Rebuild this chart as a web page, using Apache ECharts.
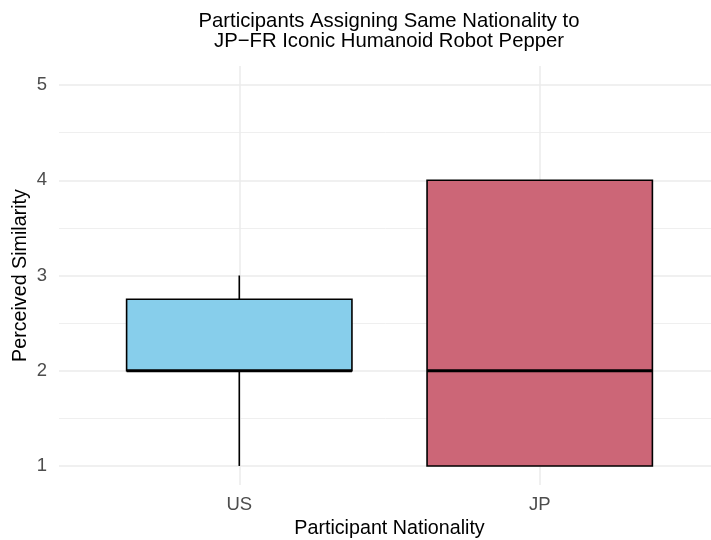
<!DOCTYPE html>
<html><head><meta charset="utf-8">
<script src="https://cdn.jsdelivr.net/npm/echarts@6/dist/echarts.min.js"></script>
<style>html,body{margin:0;padding:0;background:#fff}#c{width:711px;height:540px}</style>
</head><body><div id="c"></div>
<script>
// ---- data ----
const categories = ['US', 'JP'];
const xPositions = [1, 2];
const whiskerLow = [1, 1];
const q1 = [2, 1];
const median = [2, 2];
const q3 = [2.75, 4];
const whiskerHigh = [3, 4];
const fillColors = ['#87CEEB', '#CC6677'];
const yMajorTicks = [1, 2, 3, 4, 5];
const yMinorTicks = [1.5, 2.5, 3.5, 4.5];

// ---- styling ----
const FONT = '"Liberation Sans", Arial, Helvetica, sans-serif';
const BOX_WIDTH = 0.75;
const GRID = '#EBEBEB';

const boxData = categories.map((c, i) => ({
  name: c,
  value: [xPositions[i], whiskerLow[i], q1[i], median[i], q3[i], whiskerHigh[i]],
  itemStyle: { color: fillColors[i] }
}));

function renderBox(params, api) {
  const x = api.value(0);
  const pLo = api.coord([x, api.value(1)]);
  const pA = api.coord([x, api.value(2)]);
  const pM = api.coord([x, api.value(3)]);
  const pB = api.coord([x, api.value(4)]);
  const pHi = api.coord([x, api.value(5)]);
  const half = api.size([BOX_WIDTH, 0])[0] / 2;
  const cx = pA[0];
  const stroke = { stroke: '#000', lineWidth: 1.6 };
  return {
    type: 'group',
    children: [
      { type: 'line', shape: { x1: cx, y1: pB[1], x2: cx, y2: pHi[1] }, style: stroke },
      { type: 'line', shape: { x1: cx, y1: pA[1], x2: cx, y2: pLo[1] }, style: stroke },
      { type: 'rect', shape: { x: cx - half, y: pB[1], width: 2 * half, height: pA[1] - pB[1] },
        style: { fill: api.visual('color'), stroke: '#000', lineWidth: 1.6 } },
      { type: 'line', shape: { x1: cx - half, y1: pM[1], x2: cx + half, y2: pM[1] },
        style: { stroke: '#000', lineWidth: 3.2 } }
    ]
  };
}

const chart = echarts.init(document.getElementById('c'), null, { renderer: 'canvas' });
chart.setOption({
  animation: false,
  backgroundColor: '#fff',
  textStyle: { fontFamily: FONT },
  title: {
    text: 'Participants Assigning Same Nationality to\nJP\u2212FR Iconic Humanoid Robot Pepper',
    left: 384, top: 7, textAlign: 'center',
    textStyle: { fontFamily: FONT, fontSize: 20.3, fontWeight: 'normal', color: '#000', lineHeight: 19.5 }
  },
  grid: { left: 59, width: 661, top: 66, bottom: 55, containLabel: false, outerBoundsMode: 'none' },
  xAxis: {
    type: 'value', min: 0.4, max: 2.6,
    axisLine: { show: false },
    axisTick: { show: false, customValues: xPositions },
    axisLabel: {
      customValues: xPositions, margin: 10,
      formatter: v => categories[xPositions.indexOf(v)] || '',
      color: '#4D4D4D', fontSize: 18.5, fontFamily: FONT
    },
    splitLine: { show: true, lineStyle: { color: GRID, width: 1.5 } },
    name: 'Participant Nationality', nameLocation: 'middle', nameGap: 34,
    nameMoveOverlap: false,
    nameTextStyle: { color: '#000', fontSize: 19.7, fontFamily: FONT }
  },
  yAxis: {
    type: 'value', min: 0.8, max: 5.2,
    axisLine: { show: false },
    axisTick: { show: false, customValues: yMajorTicks },
    axisLabel: {
      customValues: yMajorTicks, margin: 12,
      color: '#4D4D4D', fontSize: 18.5, fontFamily: FONT
    },
    splitLine: { show: true, lineStyle: { color: GRID, width: 1.5 } },
    name: 'Perceived Similarity', nameLocation: 'middle', nameGap: 28,
    nameMoveOverlap: false,
    nameTextStyle: { color: '#000', fontSize: 19.7, fontFamily: FONT }
  },
  series: [
    {
      type: 'line', data: [], z: 1, silent: true,
      markLine: {
        z: 1, silent: true, symbol: 'none', label: { show: false },
        lineStyle: { color: GRID, width: 0.8, type: 'solid' },
        data: yMinorTicks.map(v => ({ yAxis: v }))
      }
    },
    {
      type: 'custom', z: 3, renderItem: renderBox,
      encode: { x: 0, y: [1, 2, 3, 4, 5] },
      data: boxData
    }
  ]
});
</script>
</body></html>
